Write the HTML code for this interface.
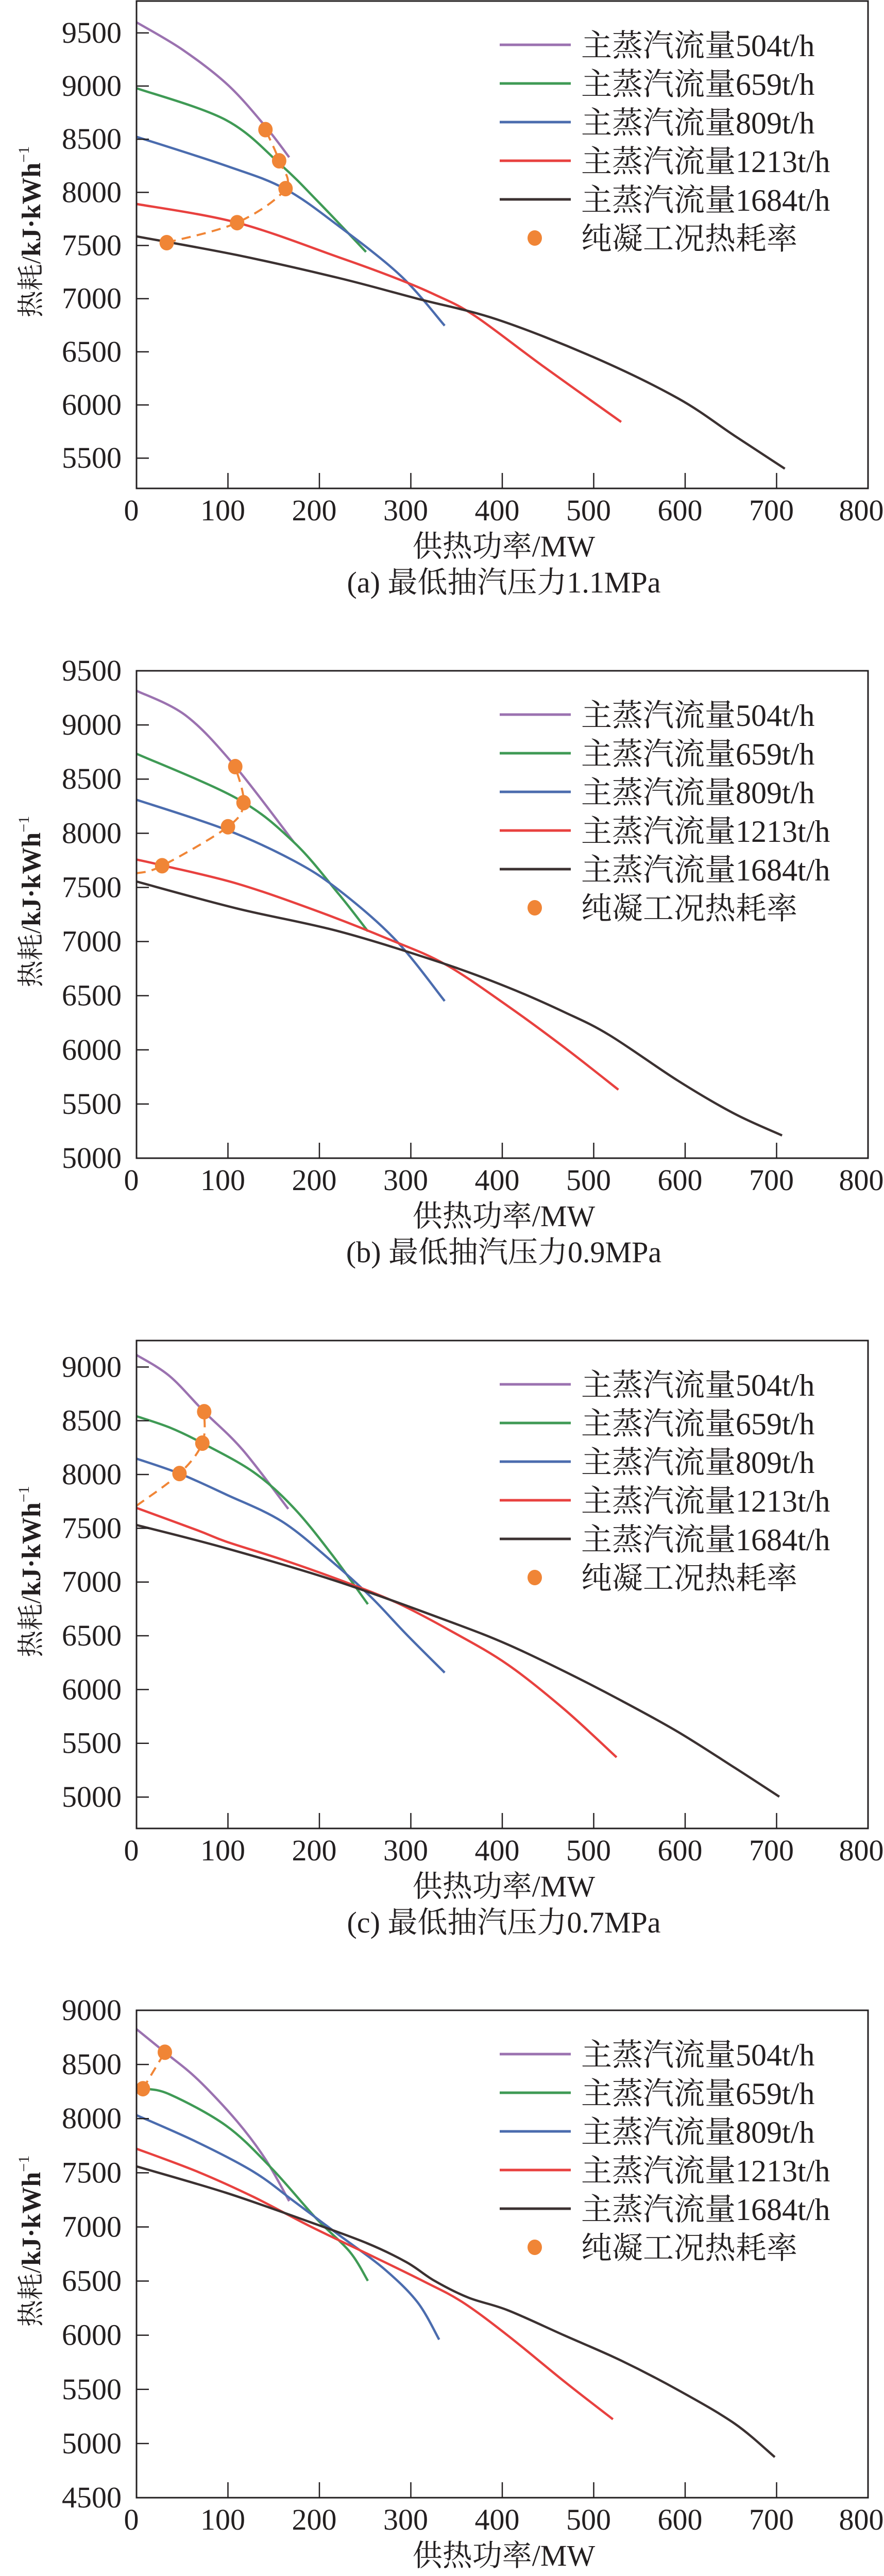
<!DOCTYPE html>
<html><head><meta charset="utf-8">
<style>
html,body{margin:0;padding:0;background:#fff;overflow:hidden;width:1716px;height:5074px;}
svg{display:block;}
text{font-family:"Liberation Serif","Noto Serif CJK SC","Noto Sans CJK SC",serif;fill:#231f20;}
</style></head>
<body>
<svg id="fig" width="1716" height="5074" viewBox="0 0 1716 5074" overflow="hidden" xmlns="http://www.w3.org/2000/svg"></svg>
<script>
// ---- data (x: heat supply MW, y: heat rate kJ/kWh) ----
const seriesNames = ["主蒸汽流量504t/h","主蒸汽流量659t/h","主蒸汽流量809t/h","主蒸汽流量1213t/h","主蒸汽流量1684t/h"];
const captions = ["(a) 最低抽汽压力1.1MPa","(b) 最低抽汽压力0.9MPa","(c) 最低抽汽压力0.7MPa","(d) 最低抽汽压力0.5MPa"];
const xTicks = [0,100,200,300,400,500,600,700,800];
const yTicksA = [5500,6000,6500,7000,7500,8000,8500,9000,9500];
const yTicksB = [5000,5500,6000,6500,7000,7500,8000,8500,9000,9500];
const yTicksC = [5000,5500,6000,6500,7000,7500,8000,8500,9000];
const yTicksD = [4500,5000,5500,6000,6500,7000,7500,8000,8500,9000];
const yRangeA = [5215,9800];
const yRangeB = [5000,9500];
const yRangeC = [4708,9246];
const yRangeD = [4500,9000];

// panel (a)
const a504x=[0,50,100,141,167], a504y=[9600,9344,9010,8620,8330];
const a659x=[0,98,159,200,251], a659y=[8980,8680,8250,7900,7440];
const a809x=[0,98,162,221,289,337], a809y=[8523,8250,8035,7684,7215,6746];
const a1213x=[0,110,221,283,326,369,443,530], a1213y=[7891,7715,7390,7195,7039,6844,6375,5840];
const a1684x=[0,110,221,307,394,499,592,654,709], a1684y=[7586,7410,7195,7000,6805,6453,6063,5711,5400];
const aCondX=[33,110,163,156,141], aCondY=[7527,7715,8035,8297,8590];
const aLeadX=[], aLeadY=[];
// panel (b)
const b504x=[0,54,107,172], b504y=[9316,9086,8627,7918];
const b659x=[0,110,172,221,253], b659y=[8734,8320,7918,7440,7095];
const b809x=[0,98,172,221,283,337], b809y=[8309,8033,7746,7478,7018,6451];
const b1213x=[0,30,110,196,277,338,406,468,527], b1213y=[7757,7700,7535,7286,7018,6788,6405,6022,5632];
const b1684x=[0,110,221,332,406,468,517,592,654,706], b1684y=[7554,7305,7095,6808,6578,6348,6137,5716,5410,5210];
const bCondX=[28,100,117,108], bCondY=[7700,8060,8282,8615];
const bLeadX=[0], bLeadY=[7630];
// panel (c)
const c504x=[0,36,74,116,166], c504y=[9112,8917,8584,8230,7680];
const c659x=[0,36,72,128,172,214,253], c659y=[8542,8438,8292,8022,7689,7252,6794];
const c809x=[0,47,98,159,214,257,294,337], c809y=[8147,8009,7814,7564,7189,6856,6523,6157];
const c1213x=[0,67,98,159,221,283,344,406,468,525], c1213y=[7689,7480,7376,7210,7023,6814,6544,6232,5815,5370];
const c1684x=[0,98,221,344,406,468,530,592,654,703], c1684y=[7530,7314,7002,6627,6419,6169,5898,5607,5274,5003];
const cCondX=[47,72,74], cCondY=[8009,8292,8584];
const cLeadX=[0], cLeadY=[7709];
// panel (d)
const d504x=[0,31,67,110,141,167], d504y=[8826,8613,8361,7974,7625,7238];
const d659x=[0,7,36,98,147,196,233,253], d659y=[8276,8276,8225,7935,7548,7083,6773,6502];
const d809x=[0,67,128,172,221,270,307,331], d809y=[8032,7780,7509,7238,6928,6618,6308,5960];
const d1213x=[0,67,128,190,252,313,356,406,468,521], d1213y=[7722,7509,7277,7005,6754,6502,6308,5998,5572,5224];
const d1684x=[0,98,190,252,295,326,363,406,468,530,592,654,698], d1684y=[7559,7315,7044,6850,6676,6502,6347,6231,5998,5766,5495,5185,4875];
const dCondX=[7,31], dCondY=[8276,8613];
const dLeadX=[], dLeadY=[];

const colors=["#9b72b0","#3f9a55","#4b6cae","#e8413f","#3b3131"];
const orange="#f08536";
const NS="http://www.w3.org/2000/svg";
const svg=document.getElementById("fig");
const X0=265,X1=1685;

function mk(tag,attrs,parent){const e=document.createElementNS(NS,tag);for(const k in attrs)e.setAttribute(k,attrs[k]);(parent||svg).appendChild(e);return e;}
function smooth(pts){
  if(pts.length<2)return "";
  let d="M"+pts[0][0].toFixed(1)+","+pts[0][1].toFixed(1);
  for(let i=0;i<pts.length-1;i++){
    const p0=pts[i-1]||pts[i],p1=pts[i],p2=pts[i+1],p3=pts[i+2]||p2;
    const c1=[p1[0]+(p2[0]-p0[0])/6,p1[1]+(p2[1]-p0[1])/6];
    const c2=[p2[0]-(p3[0]-p1[0])/6,p2[1]-(p3[1]-p1[1])/6];
    d+=" C"+c1[0].toFixed(1)+","+c1[1].toFixed(1)+" "+c2[0].toFixed(1)+","+c2[1].toFixed(1)+" "+p2[0].toFixed(1)+","+p2[1].toFixed(1);
  }
  return d;
}
function txt(g,x,y,s,size,anchor){
  const t=mk("text",{x:x,y:y,"font-size":size,"text-anchor":anchor||"start"},g);
  t.textContent=s;return t;
}

const panels=[
 {top:2,bot:948,yr:yRangeA,yt:yTicksA,sx:[a504x,a659x,a809x,a1213x,a1684x],sy:[a504y,a659y,a809y,a1213y,a1684y],cx:aCondX,cy:aCondY,lx:aLeadX,ly:aLeadY,id:"a"},
 {top:1302,bot:2248,yr:yRangeB,yt:yTicksB,sx:[b504x,b659x,b809x,b1213x,b1684x],sy:[b504y,b659y,b809y,b1213y,b1684y],cx:bCondX,cy:bCondY,lx:bLeadX,ly:bLeadY,id:"b"},
 {top:2602,bot:3549,yr:yRangeC,yt:yTicksC,sx:[c504x,c659x,c809x,c1213x,c1684x],sy:[c504y,c659y,c809y,c1213y,c1684y],cx:cCondX,cy:cCondY,lx:cLeadX,ly:cLeadY,id:"c"},
 {top:3902,bot:4848,yr:yRangeD,yt:yTicksD,sx:[d504x,d659x,d809x,d1213x,d1684x],sy:[d504y,d659y,d809y,d1213y,d1684y],cx:dCondX,cy:dCondY,lx:dLeadX,ly:dLeadY,id:"d"}
];

panels.forEach((P,pi)=>{
  const g=mk("g",{});
  
  
  const xs=v=>X0+(v-0)/(800-0)*(X1-X0);
  const ys=v=>P.bot-(v-P.yr[0])/(P.yr[1]-P.yr[0])*(P.bot-P.top);
  const clipId="clip"+P.id;
  const cp=mk("clipPath",{id:clipId},g);mk("rect",{x:X0,y:P.top,width:X1-X0,height:P.bot-P.top},cp);
  const sg=mk("g",{"clip-path":"url(#"+clipId+")"},g);
  P.sx.forEach((xa,si)=>{
    const pts=xa.map((x,i)=>[xs(x),ys(P.sy[si][i])]);
    const p=mk("path",{d:smooth(pts),fill:"none",stroke:colors[si],"stroke-width":4.5},sg);
    
    
  });
  const dx=P.lx.concat(P.cx), dy=P.ly.concat(P.cy);
  const dpts=dx.map((x,i)=>[xs(x),ys(dy[i])]);
  const dl=mk("path",{d:smooth(dpts),fill:"none",stroke:orange,"stroke-width":4,"stroke-dasharray":"18,12"},sg);
  
  
  P.cx.forEach((x,i)=>{
    const m=mk("ellipse",{cx:xs(x),cy:ys(P.cy[i]),rx:14,ry:15,fill:orange},g);
    
    
  });
  const box=mk("rect",{x:X0,y:P.top,width:X1-X0,height:P.bot-P.top,fill:"none",stroke:"#231f20","stroke-width":3},g);
  
  
  P.yt.forEach(v=>{
    const y=ys(v);
    if(y>P.top+1&&y<P.bot-1) mk("line",{x1:X0,x2:X0+24,y1:y,y2:y,stroke:"#231f20","stroke-width":2.5},g);
    const t=txt(g,236,y+19,String(v),58,"end");
    
    
  });
  xTicks.forEach(v=>{
    const x=xs(v);
    if(v>0&&v<800) mk("line",{x1:x,x2:x,y1:P.bot,y2:P.bot-30,stroke:"#231f20","stroke-width":2.5},g);
    const t=txt(g,v===800?1672:x-10,P.bot+62,String(v),58,"middle");
    
    
  });
  const xl=txt(g,978,P.bot+132,"供热功率/MW",58,"middle");
  
  
  const cap=txt(g,978,P.bot+202,captions[pi],58,"middle");
  
  
  const cy=(P.top+P.bot)/2;
  const yt=mk("text",{x:0,y:0,"font-size":52,"text-anchor":"middle",transform:"translate(78,"+(cy-25)+") rotate(-90)"},g);
  
  
  yt.innerHTML='热耗/<tspan font-weight="bold">kJ·kWh</tspan><tspan font-size="30" dy="-22">−1</tspan>';
  const lg=mk("g",{},g);
  
  
  seriesNames.forEach((n,i)=>{
    const y=P.top+85+75*i;
    mk("line",{x1:970,x2:1108,y1:y,y2:y,stroke:colors[i],"stroke-width":5},lg);
    const t=txt(lg,1128,y+22,n,60,"start");
    
    
  });
  const ly=P.top+85+75*5;
  mk("ellipse",{cx:1038,cy:ly,rx:14,ry:15,fill:orange},lg);
  const lt=txt(lg,1128,ly+22,"纯凝工况热耗率",60,"start");
  
  
});
</script>
</body></html>
